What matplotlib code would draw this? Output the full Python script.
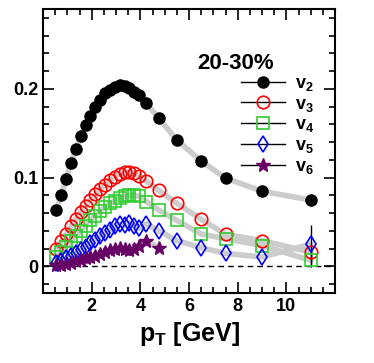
import matplotlib
matplotlib.use("Agg")
import matplotlib.pyplot as plt
from matplotlib.lines import Line2D
from matplotlib.ticker import MultipleLocator

plt.rcParams['font.family'] = ['Liberation Sans', 'DejaVu Sans']
plt.rcParams['font.weight'] = 'bold'
plt.rcParams['mathtext.fontset'] = 'custom'
plt.rcParams['mathtext.rm'] = 'Liberation Sans:bold'
plt.rcParams['mathtext.it'] = 'Liberation Sans:bold'
plt.rcParams['mathtext.bf'] = 'Liberation Sans:bold'

# pT bin centres (GeV)
pt = [0.55, 0.75, 0.95, 1.15, 1.35, 1.55, 1.75, 1.95, 2.15, 2.35, 2.55, 2.75,
      2.95, 3.15, 3.35, 3.55, 3.75, 3.95, 4.25, 4.75, 5.5, 6.5, 7.5, 9.0, 11.0]
pt_v6 = pt[:20]

v2 = [0.0635, 0.080, 0.099, 0.117, 0.132, 0.147, 0.159, 0.170, 0.180, 0.188,
      0.195, 0.199, 0.202, 0.204, 0.2035, 0.201, 0.197, 0.193, 0.184, 0.167,
      0.1424, 0.1186, 0.0994, 0.0847, 0.0747]
v3 = [0.020, 0.028, 0.036, 0.045, 0.053, 0.061, 0.068, 0.075, 0.081, 0.087,
      0.092, 0.097, 0.101, 0.104, 0.1065, 0.1065, 0.105, 0.102, 0.096, 0.0855,
      0.071, 0.053, 0.036, 0.029, 0.016]
v4 = [0.011, 0.016, 0.022, 0.028, 0.034, 0.040, 0.046, 0.052, 0.057, 0.062,
      0.067, 0.071, 0.074, 0.077, 0.079, 0.080, 0.080, 0.079, 0.073, 0.0635,
      0.0517, 0.0365, 0.031, 0.0234, 0.0067]
v5 = [0.004, 0.006, 0.009, 0.012, 0.015, 0.018, 0.022, 0.026, 0.030, 0.034,
      0.038, 0.041, 0.045, 0.048, 0.047, 0.049, 0.046, 0.043, 0.048, 0.040,
      0.029, 0.021, 0.0145, 0.0105, 0.025]
v6 = [0.001, 0.002, 0.003, 0.004, 0.006, 0.007, 0.009, 0.011, 0.012, 0.014,
      0.016, 0.018, 0.020, 0.021, 0.020, 0.018, 0.019, 0.023, 0.029, 0.021]

# statistical errors, only visible at the highest pT points
v3_err = [0] * 24 + [0.008]
v4_err = [0] * 24 + [0.008]
v5_err = [0] * 24 + [0.022]
v6_err = [0] * 19 + [0.004]

series = [
    ("$v_2$", pt, v2, None, dict(marker='o', color='black', mfc='black', ms=8)),
    ("$v_3$", pt, v3, v3_err, dict(marker='o', color='red', mfc='none', ms=9, mew=1.2)),
    ("$v_4$", pt, v4, v4_err, dict(marker='s', color='#33cc33', mfc='none', ms=8, mew=1.2)),
    ("$v_5$", pt, v5, v5_err, dict(marker='d', color='blue', mfc='none', ms=8, mew=1.2)),
    ("$v_6$", pt_v6, v6, v6_err, dict(marker='*', color='#660066', mfc='#660066', ms=10)),
]

fig = plt.figure(figsize=(3.74, 3.63), dpi=100)
ax = fig.add_axes([0.115, 0.193, 0.781, 0.782])

ax.axhline(0, color='black', ls='--', lw=1, dashes=(4, 3))

# systematic bands
for label, x, y, err, st in series:
    ax.plot(x, y, color='#cccccc', lw=4, solid_capstyle='round', zorder=1)

handles = []
for label, x, y, err, st in series:
    if err is not None:
        ax.errorbar(x, y, yerr=err, fmt='none', ecolor='black', elinewidth=1, zorder=2)
    ax.plot(x, y, ls='none', zorder=3, **st)
    handles.append(Line2D([], [], color='black', lw=1, marker=st['marker'],
                          mfc=st['mfc'], mec=st['color'], ms=st['ms'],
                          mew=st.get('mew', 1)))

ax.set_xlim(0, 12)
ax.set_ylim(-0.03, 0.29)
ax.xaxis.set_major_locator(MultipleLocator(2))
ax.xaxis.set_minor_locator(MultipleLocator(0.5))
ax.yaxis.set_major_locator(MultipleLocator(0.1))
ax.yaxis.set_minor_locator(MultipleLocator(0.02))
ax.set_xticks([2, 4, 6, 8, 10])
ax.set_yticklabels(['0' if abs(t) < 1e-9 else f'{t:g}' for t in ax.get_yticks()])
ax.tick_params(which='both', direction='in', top=True, right=True, labelsize=13, width=1.2)
ax.tick_params(which='major', length=8)
ax.tick_params(which='minor', length=4)
for s in ax.spines.values():
    s.set_linewidth(1.5)

ax.set_xlabel("p$_{T}$ [GeV]", fontsize=18, fontweight='bold', labelpad=4)

ax.text(0.66, 0.79, "20-30%", transform=ax.transAxes, fontsize=16,
        fontweight='bold', ha='center')
ax.legend(handles, [s[0] for s in series], loc='upper right',
          bbox_to_anchor=(0.985, 0.825), frameon=False, fontsize=13,
          handlelength=2.4, labelspacing=0.15, handletextpad=0.6)

fig.savefig("out.png", dpi=100)
